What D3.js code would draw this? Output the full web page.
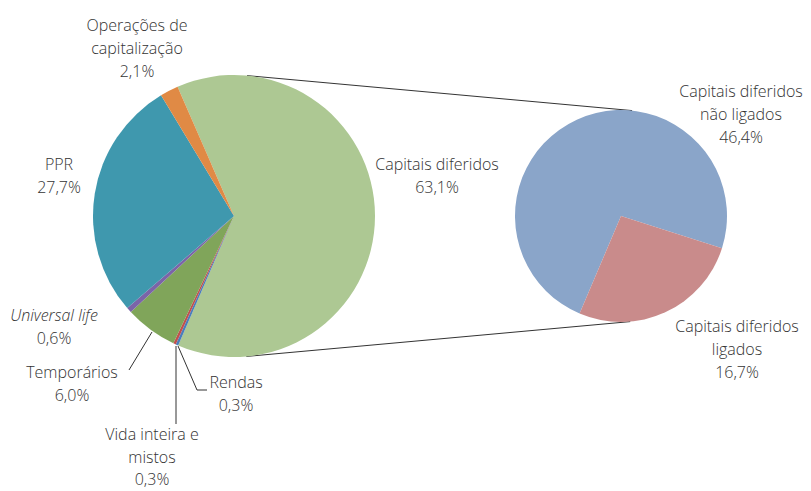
<!DOCTYPE html>
<html>
<head>
<meta charset="utf-8">
<script src="https://cdn.jsdelivr.net/npm/d3@7"></script>
<style>
  body { margin: 0; background: #fff; }
  text { font-family: "Open Sans", sans-serif; font-weight: 300; font-size: 16px; fill: #333; }
</style>
</head>
<body>
<script>
const width = 811, height = 491;

// main pie, clockwise starting with Capitais diferidos
const mainCats = ["Capitais diferidos", "Rendas", "Vida inteira e mistos", "Temporários", "Universal life", "PPR", "Operações de capitalização"];
const mainVals = [63.1, 0.3, 0.3, 6.0, 0.6, 27.7, 2.1];
const mainColors = ["#adc893", "#4a7ebb", "#c0504d", "#80a55a", "#7b64a8", "#3f98ae", "#e08a45"];

// breakdown of Capitais diferidos
const subCats = ["Capitais diferidos não ligados", "Capitais diferidos ligados"];
const subVals = [46.4, 16.7];
const subColors = ["#8aa5c9", "#c98b8b"];

const fmt = v => d3.format(".1f")(v).replace(".", ",") + "%";

const svg = d3.select("body").append("svg").attr("width", width).attr("height", height);

const rad = d => d * Math.PI / 180;
const c1 = [234, 216], r1 = 141;
const c2 = [621, 216], r2 = 106;

const pie1 = d3.pie().sort(null).startAngle(rad(-23.6)).endAngle(rad(336.4));
const pie2 = d3.pie().sort(null).startAngle(rad(203)).endAngle(rad(563));
const arc1 = d3.arc().innerRadius(0).outerRadius(r1);
const arc2 = d3.arc().innerRadius(0).outerRadius(r2);

const onCircle = (c, r, a) => [c[0] + r * Math.sin(rad(a)), c[1] - r * Math.cos(rad(a))];

// connector lines between the two pies
const links = [[5.3, 6], [175, 175]];
svg.append("g").selectAll("line").data(links).join("line")
  .attr("x1", d => onCircle(c1, r1, d[0])[0]).attr("y1", d => onCircle(c1, r1, d[0])[1])
  .attr("x2", d => onCircle(c2, r2, d[1])[0]).attr("y2", d => onCircle(c2, r2, d[1])[1])
  .attr("stroke", "#333").attr("stroke-width", 1);

svg.append("g").attr("transform", `translate(${c1})`)
  .selectAll("path").data(pie1(mainVals)).join("path")
  .attr("d", arc1).attr("fill", (d, i) => mainColors[i]);

svg.append("g").attr("transform", `translate(${c2})`)
  .selectAll("path").data(pie2(subVals)).join("path")
  .attr("d", arc2).attr("fill", (d, i) => subColors[i]);

// leader lines
const leaders = [
  [[152, 332], [129, 370]],
  [[178, 346], [197, 390], [207, 390]],
  [[176, 346], [176, 424]]
];
svg.append("g").selectAll("path").data(leaders).join("path")
  .attr("d", d => d3.line()(d)).attr("fill", "none").attr("stroke", "#333").attr("stroke-width", 1);

// labels: [lines, x, baseline y, line step, italic first line]
const labels = [
  [["Capitais diferidos", fmt(mainVals[0])], 437, 170, 23.2],
  [["Rendas", fmt(mainVals[1])], 236, 388, 23.2],
  [["Vida inteira e", "mistos", fmt(mainVals[2])], 152, 440, 22.6],
  [["Temporários", fmt(mainVals[3])], 72, 378, 23.2],
  [["Universal life", fmt(mainVals[4])], 54, 321, 23.2, true],
  [["PPR", fmt(mainVals[5])], 59, 170, 23.2],
  [["Operações de", "capitalização", fmt(mainVals[6])], 137, 31, 23.2],
  [["Capitais diferidos", "não ligados", fmt(subVals[0])], 741, 97, 23.2],
  [["Capitais diferidos", "ligados", fmt(subVals[1])], 737, 332, 23.2]
];

const lg = svg.append("g");
labels.forEach(([lines, x, y, step, ital]) => {
  const t = lg.append("text").attr("text-anchor", "middle");
  lines.forEach((s, i) => {
    t.append("tspan").attr("x", x).attr("y", y + i * step).text(s)
      .style("font-style", ital && i == 0 ? "italic" : null);
  });
});
</script>
</body>
</html>
